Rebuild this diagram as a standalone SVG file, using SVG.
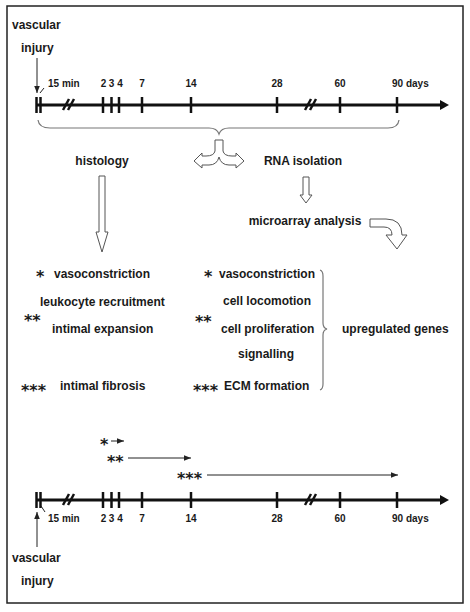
<svg xmlns="http://www.w3.org/2000/svg" width="470" height="612" viewBox="0 0 470 612">
<defs>
<style>
text{font-family:"Liberation Sans",Arial,sans-serif;font-weight:bold;fill:#1a1a1a}
.t{font-size:12px}
.s{font-size:10px}
.st{font-family:"DejaVu Sans",sans-serif;font-size:16px}
.axis{stroke:#111;stroke-width:3;fill:none}
.tick{stroke:#111;stroke-width:2.5}
.thin{stroke:#222;stroke-width:1;fill:none}
.brace{stroke:#777;stroke-width:1.2;fill:none}
.hollow{stroke:#555;stroke-width:1;fill:#fff}
</style>
<marker id="ah" viewBox="0 0 10 10" refX="10" refY="5" markerWidth="7" markerHeight="7" orient="auto" markerUnits="userSpaceOnUse">
<path d="M0,1 L10,5 L0,9 Z" fill="#222"/>
</marker>
</defs>
<rect x="7" y="6" width="456" height="597" fill="#fff" stroke="#222" stroke-width="1.5"/>

<g id="timeline-top">
<line class="axis" x1="36" y1="105" x2="441" y2="105"/>
<polygon points="440,100 449,105 440,110" fill="#111"/>
<g class="tick">
<line x1="36.5" y1="97" x2="36.5" y2="113"/><line x1="40.5" y1="97" x2="40.5" y2="113"/>
<line x1="103" y1="97" x2="103" y2="113"/><line x1="111.5" y1="97" x2="111.5" y2="113"/>
<line x1="119" y1="97" x2="119" y2="113"/><line x1="142" y1="97" x2="142" y2="113"/>
<line x1="191" y1="97" x2="191" y2="113"/><line x1="277" y1="97" x2="277" y2="113"/>
<line x1="340" y1="97" x2="340" y2="113"/><line x1="397" y1="97" x2="397" y2="113"/>
<line x1="63" y1="110" x2="69" y2="99"/><line x1="68" y1="110" x2="74" y2="99"/>
<line x1="305" y1="110" x2="311" y2="99"/><line x1="310" y1="110" x2="316" y2="99"/>
</g>
<line class="thin" x1="40" y1="93" x2="44" y2="88"/>
<text class="s" x="48" y="87">15 min</text>
<text class="s" x="103.5" y="87" text-anchor="middle">2</text>
<text class="s" x="111.5" y="87" text-anchor="middle">3</text>
<text class="s" x="120" y="87" text-anchor="middle">4</text>
<text class="s" x="142" y="87" text-anchor="middle">7</text>
<text class="s" x="191" y="87" text-anchor="middle">14</text>
<text class="s" x="277" y="87" text-anchor="middle">28</text>
<text class="s" x="340" y="87" text-anchor="middle">60</text>
<text class="s" x="392" y="87">90 days</text>
</g>

<g id="injury-top">
<text class="t" x="12" y="29">vascular</text>
<text class="t" x="21" y="52">injury</text>
</g>

<g id="brace-top">
<path class="brace" d="M38,120 Q39,128 50,128 L209,128 Q217,128 219,134 Q221,128 229,128 L388,128 Q398,128 399,120"/>
</g>

<g id="split-arrow">
<path class="hollow" d="M215,140 L223,140 L223,151 Q224,156 232,156 L236,156 L236,153 L244,161 L236,168 L236,165 L229,165 Q221,165 219,157 Q217,165 209,165 L202,165 L202,168 L194,161 L202,153 L202,156 L206,156 Q214,156 215,151 Z"/>
</g>

<g id="histology">
<text class="t" x="102" y="165" text-anchor="middle">histology</text>
</g>
<g id="rna">
<text class="t" x="303" y="165" text-anchor="middle">RNA isolation</text>
</g>
<g id="microarray">
<text class="t" x="305" y="225" text-anchor="middle">microarray analysis</text>
</g>

<g id="connectors">
<path class="hollow" d="M99,176 L105,176 L105,232 L108,232 L102,252 L96,232 L99,232 Z"/>
<path class="hollow" d="M303,177 L309,177 L309,195 L312,195 L306,203 L300,195 L303,195 Z"/>
<path class="hollow" d="M370,219 L386,219 Q402,219 402,235 L407,235 L397,249 L386,235 L392,235 Q392,227 384,227 L370,227 Z"/>
<line class="thin" x1="37" y1="58" x2="37" y2="93" marker-end="url(#ah)"/>
<line class="thin" x1="37" y1="547" x2="37" y2="512" marker-end="url(#ah)"/>
<line class="thin" x1="111" y1="441" x2="124" y2="441" marker-end="url(#ah)"/>
<line class="thin" x1="128" y1="458" x2="191" y2="458" marker-end="url(#ah)"/>
<line class="thin" x1="207" y1="475" x2="398" y2="475" marker-end="url(#ah)"/>
</g>

<g id="histology-results">
<text class="st" x="36" y="282">*</text>
<text class="t" x="54" y="278">vasoconstriction</text>
<text class="t" x="40" y="306">leukocyte recruitment</text>
<text class="st" x="24" y="326">**</text>
<text class="t" x="52" y="333">intimal expansion</text>
<text class="st" x="21" y="396">***</text>
<text class="t" x="60" y="390">intimal fibrosis</text>
</g>

<g id="gene-results">
<text class="st" x="204" y="282">*</text>
<text class="t" x="219" y="278">vasoconstriction</text>
<text class="t" x="223" y="305">cell locomotion</text>
<text class="st" x="195" y="327">**</text>
<text class="t" x="221" y="333">cell proliferation</text>
<text class="t" x="238" y="358">signalling</text>
<text class="st" x="193" y="396">***</text>
<text class="t" x="224" y="390">ECM formation</text>
<path class="brace" d="M320,270 Q323,271 323,276 L323,323 Q323,328 327,329 Q323,330 323,335 L323,384 Q323,389 320,390"/>
<text class="t" x="342" y="333">upregulated genes</text>
</g>

<g id="bottom-stars">
<text class="st" x="100" y="450">*</text>
<text class="st" x="107" y="467">**</text>
<text class="st" x="177" y="484">***</text>
</g>

<g id="timeline-bottom">
<line class="axis" x1="36" y1="500" x2="441" y2="500"/>
<polygon points="440,495 449,500 440,505" fill="#111"/>
<g class="tick">
<line x1="36.5" y1="492" x2="36.5" y2="508"/><line x1="40.5" y1="492" x2="40.5" y2="508"/>
<line x1="103" y1="492" x2="103" y2="508"/><line x1="111.5" y1="492" x2="111.5" y2="508"/>
<line x1="119" y1="492" x2="119" y2="508"/><line x1="142" y1="492" x2="142" y2="508"/>
<line x1="191" y1="492" x2="191" y2="508"/><line x1="277" y1="492" x2="277" y2="508"/>
<line x1="340" y1="492" x2="340" y2="508"/><line x1="397" y1="492" x2="397" y2="508"/>
<line x1="63" y1="505" x2="69" y2="494"/><line x1="68" y1="505" x2="74" y2="494"/>
<line x1="305" y1="505" x2="311" y2="494"/><line x1="310" y1="505" x2="316" y2="494"/>
</g>
<line class="thin" x1="41" y1="506" x2="45" y2="512"/>
<text class="s" x="48" y="522">15 min</text>
<text class="s" x="103.5" y="522" text-anchor="middle">2</text>
<text class="s" x="111.5" y="522" text-anchor="middle">3</text>
<text class="s" x="120" y="522" text-anchor="middle">4</text>
<text class="s" x="142" y="522" text-anchor="middle">7</text>
<text class="s" x="191" y="522" text-anchor="middle">14</text>
<text class="s" x="277" y="522" text-anchor="middle">28</text>
<text class="s" x="340" y="522" text-anchor="middle">60</text>
<text class="s" x="392" y="522">90 days</text>
</g>

<g id="injury-bottom">
<text class="t" x="12" y="562">vascular</text>
<text class="t" x="21" y="585">injury</text>
</g>
</svg>
